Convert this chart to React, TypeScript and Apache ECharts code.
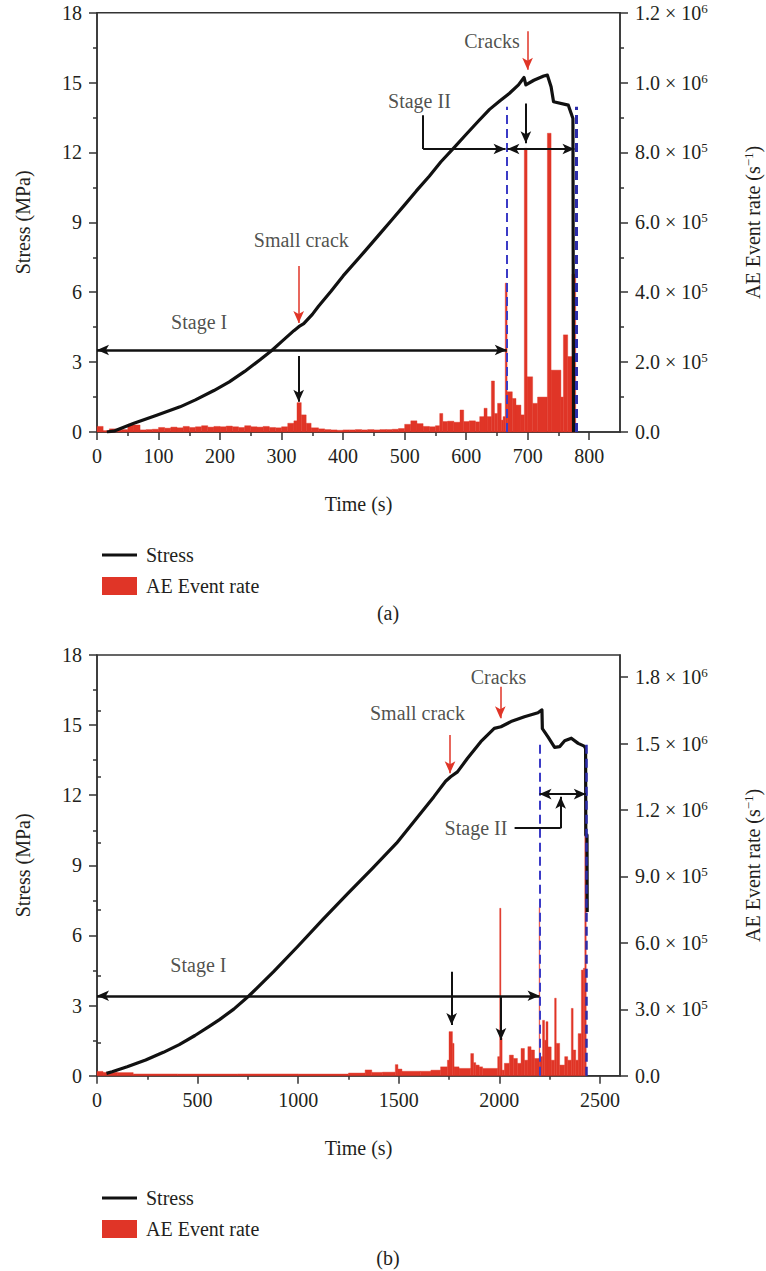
import React, { useEffect, useRef } from 'react';
import * as echarts from 'echarts';

const FONT = 'Liberation Serif';
const TXT = '#231f20';
const AXIS = '#333333';
const RED = '#e03527';
const BLUE = '#3b3bc6';
const BLUE2 = '#2c2caa';

// ---------------- (a) ----------------
const stressTimeA = [16, 29, 60, 97, 135, 160, 190, 215, 240, 265, 284, 300, 320, 328, 336, 350, 360, 380, 400, 434, 447, 461, 479, 500, 519, 540, 559, 580, 599, 620, 638, 655, 670, 685, 694, 697, 710, 726, 732, 738, 742, 766, 773.5, 774.5];
const stressA = [0, 0.05, 0.38, 0.72, 1.08, 1.38, 1.78, 2.15, 2.6, 3.1, 3.5, 3.88, 4.35, 4.52, 4.65, 5.05, 5.4, 6.03, 6.7, 7.72, 8.12, 8.55, 9.1, 9.75, 10.35, 10.98, 11.6, 12.2, 12.75, 13.35, 13.85, 14.22, 14.53, 14.9, 15.22, 14.9, 15.1, 15.28, 15.32, 14.82, 14.18, 14.03, 13.46, 0];

const aeEdgesA = [0, 10, 20, 30, 40, 50, 60, 70, 80, 90, 100, 110, 120, 130, 140, 150, 160, 170, 180, 190, 200, 210, 220, 230, 240, 250, 260, 270, 280, 290, 300, 310, 320, 325, 332, 340, 348, 360, 370, 380, 390, 400, 410, 420, 430, 440, 450, 460, 470, 480, 490, 500, 510, 520, 530, 540, 550, 557, 562, 570, 580, 590, 596, 605, 615, 622, 629, 634, 641, 646, 651, 657, 660, 663.5, 666.5, 675, 681, 689, 694.5, 699, 708, 716, 732, 738, 754, 758, 765, 772, 778];
const aeRatesA = [16000, 4000, 9000, 8000, 7000, 22000, 20000, 6000, 7000, 8000, 13000, 11000, 14000, 12000, 16000, 13000, 15000, 18000, 14000, 16000, 15000, 17000, 15000, 13000, 18000, 15000, 14000, 16000, 13000, 12000, 15000, 25000, 32000, 84000, 49000, 25000, 12000, 9000, 7000, 6000, 5000, 6000, 6000, 7000, 6000, 7000, 6000, 7000, 7000, 8000, 10000, 22000, 32000, 24000, 16000, 15000, 18000, 53000, 30000, 31000, 28000, 63000, 30000, 32000, 29000, 44000, 68000, 44000, 146000, 53000, 82000, 34000, 44000, 426000, 115000, 96000, 77000, 49000, 812000, 158000, 82000, 100000, 855000, 177000, 100000, 278000, 216000, 452000];

const timeTicksA = [0, 100, 200, 300, 400, 500, 600, 700, 800];
const stageBoundsA = [666, 778.5];
const dashTopA = 13.96;

// ---------------- (b) ----------------
const stressTimeB = [47, 75, 150, 242, 330, 409, 487, 560, 609, 680, 756, 878, 1000, 1122, 1245, 1367, 1489, 1592, 1675, 1733, 1758, 1792, 1842, 1908, 1975, 2008, 2058, 2125, 2192, 2212, 2214, 2242, 2275, 2300, 2325, 2358, 2392, 2422, 2429, 2430, 2436, 2437];
const stressB = [0.1, 0.17, 0.38, 0.67, 1.0, 1.33, 1.72, 2.12, 2.4, 2.85, 3.42, 4.45, 5.55, 6.68, 7.78, 8.85, 9.95, 11.05, 11.94, 12.6, 12.79, 13.0, 13.58, 14.29, 14.86, 14.93, 15.15, 15.36, 15.53, 15.65, 14.85, 14.5, 14.05, 14.08, 14.33, 14.44, 14.22, 14.1, 14.0, 10.3, 10.3, 7.0];

const aeEdgesB = [0, 30, 100, 180, 400, 700, 1000, 1250, 1333, 1366, 1420, 1483, 1496, 1516, 1608, 1660, 1708, 1742, 1750, 1767, 1775, 1800, 1858, 1872, 1883, 1900, 1917, 1992, 2002, 2008, 2014, 2025, 2050, 2070, 2090, 2108, 2125, 2142, 2158, 2175, 2198, 2201, 2215, 2225, 2232, 2242, 2258, 2275, 2283, 2300, 2325, 2340, 2358, 2367, 2380, 2392, 2408, 2418, 2425, 2432];
const aeRatesB = [19500, 15000, 14000, 8000, 7500, 8000, 7500, 12000, 26000, 15000, 16000, 50000, 30000, 20000, 20000, 25000, 40000, 70000, 199000, 146000, 40000, 33000, 100000, 59000, 48000, 40000, 33000, 86000, 756000, 170000, 25000, 56000, 93000, 78000, 56000, 123000, 70000, 131000, 116000, 78000, 760000, 86000, 250000, 160000, 244000, 130000, 70000, 350000, 146000, 48000, 86000, 70000, 304000, 116000, 70000, 190000, 477000, 485000, 1390000];

const timeTicksB = [0, 500, 1000, 1500, 2000, 2500];
const aeTicksB = [0, 300000, 600000, 900000, 1200000, 1500000, 1800000];
const stageBoundsB = [2200, 2430];
const dashTopB = 14.22;

// annotations (data coordinates: [time, stress])
const labelsA = [
  { name: 'Stage I', value: [166, 4.74] },
  { name: 'Small crack', value: [332, 8.25] },
  { name: 'Stage II', value: [524, 14.19] },
  { name: 'Cracks', value: [642, 16.77] },
];
const labelsB = [
  { name: 'Stage I', value: [504, 4.74] },
  { name: 'Small crack', value: [1593, 15.5] },
  { name: 'Cracks', value: [1996, 17.07] },
  { name: 'Stage II', value: [1884, 10.59] },
];
const blackArrowsA = [
  { from: [0, 3.52], to: [666, 3.52], both: true, w: 2.5 },
  { from: [327.8, 3.26], to: [327.8, 1.3], both: false, w: 2 },
  { from: [697, 14.1], to: [697, 12.4], both: false, w: 2 },
  { from: [530, 13.6], to: [530, 12.15], both: false, w: 2, noHead: true },
  { from: [530, 12.15], to: [664, 12.15], both: false, w: 2 },
  { from: [667, 12.15], to: [776, 12.15], both: true, w: 2 },
];
const redArrowsA = [
  { from: [327.8, 7.13], to: [327.8, 4.68] },
  { from: [699.8, 17.2], to: [699.8, 15.55] },
];
const blackArrowsB = [
  { from: [0, 3.42], to: [2200, 3.42], both: true, w: 2.5 },
  { from: [1763, 4.45], to: [1763, 2.17], both: false, w: 2 },
  { from: [2008, 3.38], to: [2008, 1.53], both: false, w: 2 },
  { from: [2200, 12.05], to: [2430, 12.05], both: true, w: 2 },
  { from: [2076, 10.59], to: [2305, 10.59], both: false, w: 2, noHead: true },
  { from: [2305, 10.59], to: [2305, 11.93], both: false, w: 2 },
];
const redArrowsB = [
  { from: [1755, 14.58], to: [1755, 12.94] },
  { from: [2005, 16.64], to: [2005, 15.29] },
];

const mids = (t: number[]) => t.slice(0, -1).map((v, i) => (v + t[i + 1]) / 2);
const pairs = (xs: number[], ys: number[]) => xs.map((x, i) => [x, ys[i]]);
const bins = (edges: number[], vals: number[]) => vals.map((v, i) => [edges[i], edges[i + 1], v]);

const sci = (v: number) => {
  if (v === 0) return '{n|0.0}';
  const e = Math.floor(Math.log10(v) + 1e-9);
  const m = v / Math.pow(10, e);
  return `{n|${m.toFixed(1)} × 10}{s|${e}}`;
};
const rich = {
  n: { fontSize: 20, fontFamily: FONT, color: TXT },
  s: { fontSize: 13, fontFamily: FONT, color: TXT, padding: [0, 0, 9, 0] },
};

const tickLine = { color: AXIS, width: 1.5 };

function xAxes(gi: number, max: number, ticks: number[]) {
  return [
    {
      type: 'value', gridIndex: gi, min: 0, max, position: 'bottom',
      name: 'Time (s)', nameLocation: 'middle', nameGap: 62,
      nameTextStyle: { fontSize: 20, fontFamily: FONT, color: TXT },
      axisLine: { show: true, onZero: false, lineStyle: { color: AXIS, width: 1.5 } },
      axisTick: { show: true, customValues: ticks, length: 8, lineStyle: tickLine },
      axisLabel: { customValues: ticks, margin: 14, fontSize: 20, fontFamily: FONT, color: TXT, formatter: (v: number) => String(v) },
      splitLine: { show: false },
    },
    {
      type: 'value', gridIndex: gi, min: 0, max, position: 'bottom',
      axisLine: { show: false },
      axisTick: { show: true, customValues: mids(ticks), length: 4, lineStyle: tickLine },
      axisLabel: { show: false },
      splitLine: { show: false },
    },
  ];
}

function stressAxis(gi: number) {
  return {
    type: 'value', gridIndex: gi, min: 0, max: 18, interval: 3, position: 'left',
    name: 'Stress (MPa)', nameLocation: 'middle', nameRotate: 90, nameGap: 64,
    nameTextStyle: { fontSize: 20, fontFamily: FONT, color: TXT },
    axisLine: { show: true, onZero: false, lineStyle: { color: AXIS, width: 1.5 } },
    axisTick: { show: true, length: 8, lineStyle: tickLine },
    minorTick: { show: true, splitNumber: 2, length: 4, lineStyle: tickLine },
    axisLabel: { margin: 15, fontSize: 20, fontFamily: FONT, color: TXT },
    splitLine: { show: false },
  };
}

const aeName = '{n|AE Event rate (s}{s|−1}{n|)}';

function aeAxisA() {
  return {
    type: 'value', gridIndex: 0, min: 0, max: 1200000, interval: 200000, position: 'right',
    name: aeName, nameLocation: 'middle', nameRotate: 90, nameGap: 122,
    nameTextStyle: { rich },
    axisLine: { show: true, onZero: false, lineStyle: { color: AXIS, width: 1.5 } },
    axisTick: { show: true, length: 8, lineStyle: tickLine },
    minorTick: { show: true, splitNumber: 2, length: 4, lineStyle: tickLine },
    axisLabel: { margin: 15, formatter: sci, rich },
    splitLine: { show: false },
  };
}

function aeAxesB() {
  return [
    {
      type: 'value', gridIndex: 1, min: 0, max: 1900000, position: 'right',
      name: aeName, nameLocation: 'middle', nameRotate: 90, nameGap: 122,
      nameTextStyle: { rich },
      axisLine: { show: true, onZero: false, lineStyle: { color: AXIS, width: 1.5 } },
      axisTick: { show: true, customValues: aeTicksB, length: 8, lineStyle: tickLine },
      axisLabel: { customValues: aeTicksB, margin: 15, formatter: sci, rich },
      splitLine: { show: false },
    },
    {
      type: 'value', gridIndex: 1, min: 0, max: 1900000, position: 'right',
      axisLine: { show: false },
      axisTick: { show: true, customValues: mids(aeTicksB), length: 4, lineStyle: tickLine },
      axisLabel: { show: false },
      splitLine: { show: false },
    },
  ];
}

function arrowItems(arr: any[], color: string, defW: number) {
  return arr.map((a) => [
    { coord: a.from, symbol: a.both ? 'arrow' : 'none', symbolSize: [8, 12], lineStyle: { width: a.w || defW, color }, itemStyle: { color } },
    { coord: a.to, symbol: a.noHead ? 'none' : 'arrow', symbolSize: [8, 12], itemStyle: { color } },
  ]);
}

function annotSeries(xi: number, yi: number, items: any[], color: string, type: string) {
  return {
    type: 'line', name: '_ann' + type + xi, xAxisIndex: xi, yAxisIndex: yi, data: [],
    silent: true, showSymbol: false,
    markLine: {
      silent: true, animation: false,
      symbol: ['none', 'arrow'],
      label: { show: false },
      emphasis: { disabled: true },
      lineStyle: { color, width: 1.5, type: 'solid' },
      data: items,
    },
  };
}

function dashItems(bounds: number[], top: number, colors: string[], widths: number[]) {
  return bounds.map((b, i) => [
    { coord: [b, 0], symbol: 'none', lineStyle: { color: colors[i], width: widths[i], type: [9, 5] } },
    { coord: [b, top], symbol: 'none' },
  ]);
}

function labelSeries(xi: number, yi: number, data: any[]) {
  return {
    type: 'scatter', name: '_lab' + xi, xAxisIndex: xi, yAxisIndex: yi, data,
    symbol: 'circle', symbolSize: 1, itemStyle: { color: 'rgba(0,0,0,0)' }, silent: true,
    label: { show: true, position: 'inside', formatter: '{b}', fontSize: 20, fontFamily: FONT, color: TXT },
    emphasis: { disabled: true },
  };
}

function barSeries(xi: number, yi: number, rows: number[][]) {
  return {
    type: 'custom', name: 'AE Event rate', xAxisIndex: xi, yAxisIndex: yi,
    data: rows, itemStyle: { color: RED }, silent: true,
    encode: { x: [0, 1], y: 2 },
    renderItem: (params: any, api: any) => {
      const p0 = api.coord([api.value(0), api.value(2)]);
      const p1 = api.coord([api.value(1), 0]);
      return {
        type: 'rect',
        shape: { x: p0[0], y: p0[1], width: p1[0] - p0[0], height: p1[1] - p0[1] },
        style: { fill: RED, stroke: RED, lineWidth: 0.4 },
      };
    },
  };
}

function stressSeries(xi: number, yi: number, data: number[][]) {
  return {
    type: 'line', name: 'Stress', xAxisIndex: xi, yAxisIndex: yi, data,
    showSymbol: false, symbol: 'none', silent: true,
    lineStyle: { color: '#111111', width: 3.2, join: 'round' }, itemStyle: { color: '#111111' },
    z: 3,
  };
}

function legendAt(top: number) {
  return {
    left: 97, top, orient: 'vertical', itemWidth: 35, itemHeight: 18, itemGap: 11,
    selectedMode: false,
    textStyle: { fontSize: 20, fontFamily: FONT, color: TXT, padding: [0, 0, 0, 4] },
    data: [
      { name: 'Stress', icon: 'path://M0,0 L35,0 L35,3 L0,3 Z', itemStyle: { color: '#111111' } },
      { name: 'AE Event rate', icon: 'rect', itemStyle: { color: RED } },
    ],
  };
}

const gridBase = { show: true, borderColor: AXIS, borderWidth: 1.5, backgroundColor: 'transparent', containLabel: false, outerBoundsMode: 'none' };

const option: any = {
  animation: false,
  backgroundColor: '#ffffff',
  textStyle: { fontFamily: FONT },
  grid: [
    { ...gridBase, left: 97, top: 12.7, width: 523, height: 419.3 },
    { ...gridBase, left: 97, top: 655, width: 523, height: 420.7 },
  ],
  legend: [legendAt(540), legendAt(1183)],
  xAxis: [...xAxes(0, 850, timeTicksA), ...xAxes(1, 2600, timeTicksB)],
  yAxis: [stressAxis(0), aeAxisA(), stressAxis(1), ...aeAxesB()],
  graphic: [
    { type: 'text', x: 388, y: 613, style: { text: '(a)', textAlign: 'center', textVerticalAlign: 'middle', font: `20px ${FONT}`, fill: TXT } },
    { type: 'text', x: 388, y: 1258, style: { text: '(b)', textAlign: 'center', textVerticalAlign: 'middle', font: `20px ${FONT}`, fill: TXT } },
  ],
  series: [
    barSeries(0, 1, bins(aeEdgesA, aeRatesA)),
    stressSeries(0, 0, pairs(stressTimeA, stressA)),
    annotSeries(0, 0, dashItems(stageBoundsA, dashTopA, [BLUE, BLUE2], [2, 3]), BLUE, 'd'),
    annotSeries(0, 0, arrowItems(blackArrowsA, '#111111', 2), '#111111', 'k'),
    annotSeries(0, 0, arrowItems(redArrowsA, RED, 1.5), RED, 'r'),
    labelSeries(0, 0, labelsA),

    barSeries(2, 3, bins(aeEdgesB, aeRatesB)),
    stressSeries(2, 2, pairs(stressTimeB, stressB)),
    annotSeries(2, 2, dashItems(stageBoundsB, dashTopB, [BLUE, BLUE2], [2, 2.5]), BLUE, 'd'),
    annotSeries(2, 2, arrowItems(blackArrowsB, '#111111', 2), '#111111', 'k'),
    annotSeries(2, 2, arrowItems(redArrowsB, RED, 1.5), RED, 'r'),
    labelSeries(2, 2, labelsB),
  ],
};

export default function App() {
  const ref = useRef<HTMLDivElement>(null);
  useEffect(() => {
    const chart = echarts.init(ref.current!, null, { renderer: 'svg' });
    chart.setOption(option);
    return () => chart.dispose();
  }, []);
  return (
    <div
      ref={ref}
      style={{ position: 'absolute', left: 0, top: 0, width: 766, height: 1271, background: '#ffffff' }}
    />
  );
}
